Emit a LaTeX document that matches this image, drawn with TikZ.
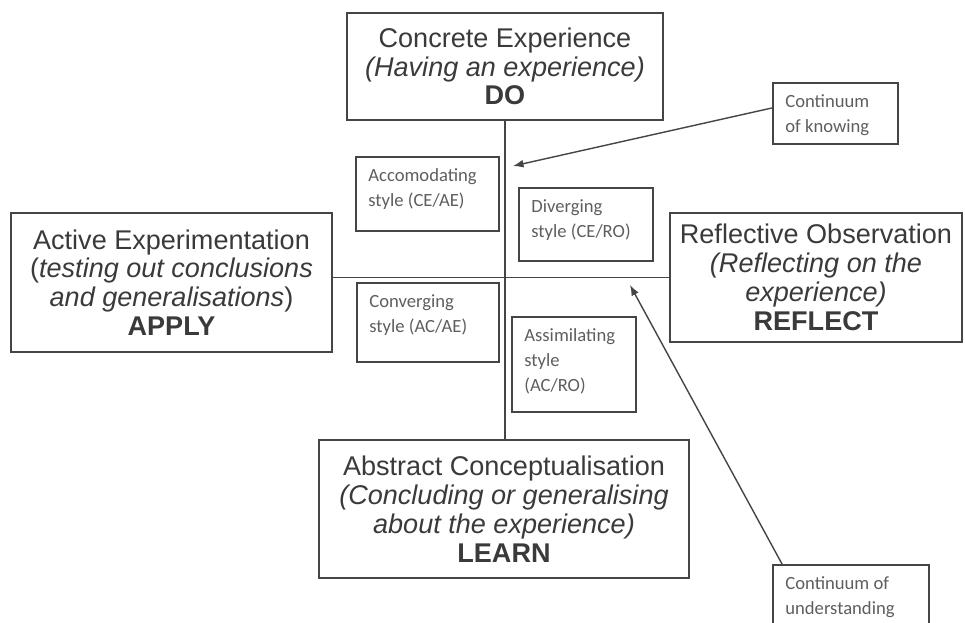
\documentclass[tikz,border=0pt]{standalone}
\usepackage{fontspec}
\setmainfont{Liberation Sans}
\newfontfamily\calib{Carlito}
\usetikzlibrary{arrows.meta}
\definecolor{boxline}{HTML}{454545}
\definecolor{bigtext}{HTML}{3A3A3A}
\definecolor{smalltext}{HTML}{5E5E5E}
\tikzset{
  mode/.style={draw=boxline, line width=1.1pt, align=center, text=bigtext,
    font=\fontsize{15.4}{16.4}\selectfont, inner sep=0pt},
  stylebox/.style={draw=boxline, line width=1.1pt, inner sep=0pt},
  styletext/.style={anchor=north west, align=left, text=smalltext,
    font=\calib\fontsize{10.6}{14.2}\selectfont, inner xsep=0.26cm, inner ysep=0.25cm},
  axis/.style={draw=boxline, line width=1.1pt},
  pointer/.style={-{Latex[length=6pt,width=4.5pt]}, draw=boxline, line width=0.8pt}
}
\begin{document}
\begin{tikzpicture}[x=0.02cm,y=-0.02cm]
    \useasboundingbox (0,0) rectangle (965,623);
    % Four learning modes
    \node[mode, minimum width=6.32cm, minimum height=2.14cm] (ce) at (505,66.5)
        {Concrete Experience\\\textit{(Having an experience)}\\\textbf{DO}};
    \node[mode, minimum width=6.42cm, minimum height=2.78cm] (ae) at (171.5,282.5)
        {Active Experimentation\\(\textit{testing out conclusions}\\\textit{and generalisations})\\\textbf{APPLY}};
    \node[mode, minimum width=5.84cm, minimum height=2.58cm] (ro) at (816,277.5)
        {Reflective Observation\\\textit{(Reflecting on the}\\\textit{experience)}\\\textbf{REFLECT}};
    \node[mode, minimum width=7.40cm, minimum height=2.76cm] (ac) at (504,509)
        {Abstract Conceptualisation\\\textit{(Concluding or generalising}\\\textit{about the experience)}\\\textbf{LEARN}};
    % Axes
    \draw[axis] (ce.south) -- (ce.south |- ac.north);
    \draw[axis] (ro.west -| ae.east) -- (ro.west);
    % Learning styles
    \node[stylebox, minimum width=2.86cm, minimum height=1.48cm] (accom) at (427.5,194) {};
    \node[styletext] at (accom.north west) {Accomodating\\style (CE/AE)};
    \node[stylebox, minimum width=2.68cm, minimum height=1.46cm] (diverg) at (586,224.5) {};
    \node[styletext] at (diverg.north west) {Diverging\\style (CE/RO)};
    \node[stylebox, minimum width=2.84cm, minimum height=1.58cm] (converg) at (428,322.5) {};
    \node[styletext] at (converg.north west) {Converging\\style (AC/AE)};
    \node[stylebox, minimum width=2.48cm, minimum height=1.90cm] (assim) at (574,364.5) {};
    \node[styletext] at (assim.north west) {Assimilating\\style\\(AC/RO)};
    % Continua
    \node[stylebox, minimum width=2.50cm, minimum height=1.22cm] (knowing) at (835.5,113.5) {};
    \node[styletext] at (knowing.north west) {Continuum\\of knowing};
    \node[stylebox, minimum width=3.12cm, minimum height=1.60cm] (underst) at (851,605) {};
    \node[styletext] at (underst.north west) {Continuum of\\understanding};
    \coordinate (tipk) at (513,166);
    \coordinate (tipu) at (630,285);
    \draw[pointer] (knowing.175) -- (tipk);
    \draw[pointer] ([xshift=0.2cm]underst.north west) -- (tipu);
\end{tikzpicture}
\end{document}
